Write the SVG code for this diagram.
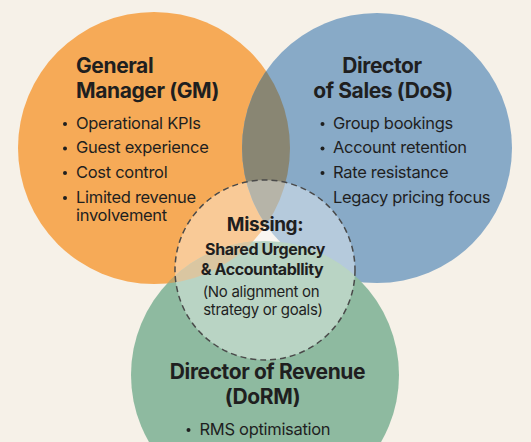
<svg xmlns="http://www.w3.org/2000/svg" width="531" height="442" viewBox="0 0 531 442">
<style>
.h{font-family:Inter,"Liberation Sans",sans-serif;font-weight:700;font-size:21px;fill:#1f1f1f;letter-spacing:-0.4px}
.b{font-family:Inter,"Liberation Sans",sans-serif;font-weight:400;font-size:16.5px;fill:#1f1f1f;letter-spacing:-0.3px}
.c{text-anchor:middle}
.dot{fill:#1f1f1f}
</style>
<defs>
<clipPath id="clipBlue"><circle cx="377" cy="148" r="135"/></clipPath>
<clipPath id="clipGreen"><circle cx="265" cy="375" r="134"/></clipPath>
</defs>
<rect width="531" height="442" fill="#F6F1E8"/>
<g id="circles">
<circle cx="154" cy="148" r="136" fill="#F6AA57"/>
<circle cx="377" cy="148" r="135" fill="#88AAC7"/>
<circle cx="265" cy="375" r="134" fill="#8EBAA0"/>
<circle cx="154" cy="148" r="136" fill="#898673" clip-path="url(#clipBlue)"/>
<circle cx="154" cy="148" r="136" fill="#C4A468" clip-path="url(#clipGreen)"/>
</g>
<g id="gm">
<text class="h" x="76" y="73">General</text>
<text class="h" x="76" y="98">Manager (GM)</text>
<circle class="dot" cx="65" cy="124" r="2"/>
<text class="b" x="76" y="128.5">Operational KPIs</text>
<circle class="dot" cx="65" cy="148.5" r="2"/>
<text class="b" x="76" y="153">Guest experience</text>
<circle class="dot" cx="65" cy="173" r="2"/>
<text class="b" x="76" y="177.5">Cost control</text>
<circle class="dot" cx="65" cy="198" r="2"/>
<text class="b" x="76" y="202.5">Limited revenue</text>
<text class="b" x="76" y="221">involvement</text>
</g>
<g id="dos">
<text class="h c" x="382" y="73">Director</text>
<text class="h c" x="383" y="98">of Sales (DoS)</text>
<circle class="dot" cx="322.5" cy="124" r="2"/>
<text class="b" x="333" y="128.5">Group bookings</text>
<circle class="dot" cx="322.5" cy="148.5" r="2"/>
<text class="b" x="333" y="153">Account retention</text>
<circle class="dot" cx="322.5" cy="173" r="2"/>
<text class="b" x="333" y="177.5">Rate resistance</text>
<text class="b" x="333" y="202.5">Legacy pricing focus</text>
</g>
<g id="missing">
<circle cx="265" cy="270" r="90" fill="#FFFFFF" fill-opacity="0.38" stroke="#4a4a4a" stroke-width="1.5" stroke-dasharray="6 4"/>
<text class="h c" x="265" y="231" style="font-size:19px">Missing:</text>
<text class="h c" x="265" y="254.5" style="font-size:16px">Shared Urgency</text>
<text class="h c" x="262" y="274.5" style="font-size:16px">&amp; Accountabllity</text>
<text class="b c" x="261" y="296.5" style="font-size:15px">(No alignment on</text>
<text class="b c" x="263" y="315" style="font-size:15px">strategy or goals)</text>
</g>
<g id="dorm">
<text class="h c" x="267.5" y="378.5">Director of Revenue</text>
<text class="h c" x="262.5" y="403.5">(DoRM)</text>
<circle class="dot" cx="188.5" cy="430" r="2"/>
<text class="b" x="199.5" y="434.5">RMS optimisation</text>
</g>
<g id="connectors"></g>
</svg>
